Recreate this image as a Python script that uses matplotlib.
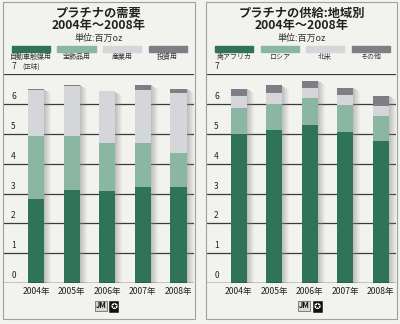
import matplotlib
matplotlib.use("Agg")
import matplotlib.pyplot as plt
from matplotlib.patches import Rectangle
import numpy as np

plt.rcParams['font.family'] = ['Noto Sans CJK JP', 'DejaVu Sans']

# data (百万oz)
years = ["2004年", "2005年", "2006年", "2007年", "2008年"]
y_ticks = [0, 1, 2, 3, 4, 5, 6, 7]

demand_labels = ["自動車触媒用", "宝飾品用", "産業用", "投資用"]
demand_note = "(正味)"
demand_auto = [2.82, 3.12, 3.10, 3.23, 3.23]
demand_jewel = [2.11, 1.81, 1.59, 1.46, 1.14]
demand_industry = [1.55, 1.69, 1.74, 1.79, 2.02]
demand_invest = [0.03, 0.03, 0.0, 0.17, 0.13]

supply_labels = ["南アフリカ", "ロシア", "北米", "その他"]
supply_sa = [5.01, 5.12, 5.30, 5.07, 4.77]
supply_russia = [0.85, 0.89, 0.92, 0.91, 0.85]
supply_na = [0.40, 0.37, 0.33, 0.33, 0.33]
supply_other = [0.26, 0.25, 0.24, 0.25, 0.34]

colors = ["#2f735a", "#8bb6a1", "#d5d6da", "#7e7f84"]
bg = "#f2f3ee"
W, H = 400, 324

fig = plt.figure(figsize=(4.0, 3.24), dpi=100, facecolor=bg)


def fx(x):
    return x / W


def fy(y):
    return 1 - y / H


def panel(x0, x1, title, labels, series, note=None):
    # frame of the panel
    fig.add_artist(Rectangle((fx(x0), fy(319)), fx(x1 - x0), 317 / H,
                             transform=fig.transFigure, fill=False,
                             edgecolor="#a0a0a0", lw=0.8))
    cx = (x0 + x1) / 2
    fig.text(fx(cx), fy(13), title, ha="center", va="center",
             fontsize=8.8, fontweight="bold", color="#222222")
    fig.text(fx(cx), fy(26), "2004年～2008年", ha="center", va="center",
             fontsize=8.8, fontweight="bold", color="#222222")
    fig.text(fx(cx), fy(38), "単位:百万oz", ha="center", va="center",
             fontsize=6.5, color="#333333")
    # legend swatches
    for i, lab in enumerate(labels):
        sx = x0 + 9 + i * 45.5
        fig.add_artist(Rectangle((fx(sx), fy(52)), fx(38), 6 / H,
                                 transform=fig.transFigure, color=colors[i]))
        fig.text(fx(sx + 19), fy(57), lab, ha="center", va="center",
                 fontsize=5, color="#333333")
    if note:
        fig.text(fx(x0 + 19), fy(67), note, ha="left", va="center",
                 fontsize=4.8, color="#333333")

    ax = fig.add_axes([fx(x0 + 1), fy(283), fx(x1 - x0 - 2), 208.6 / H])
    ax.set_facecolor(bg)
    x = np.arange(len(years))
    w = 0.45
    unit = (x1 - x0 - 2) / (4.435 + 0.898)
    total = np.sum(series, axis=0)
    # drop shadows
    for k in range(1, 8):
        ax.bar(x + w / 2 + (k - 0.5) / unit, total - 0.02 * k, width=1 / unit,
               color="#8a8a8a", alpha=0.55 * (1 - k / 8), zorder=2, lw=0)
    bottom = np.zeros(len(years))
    for vals, c in zip(series, colors):
        ax.bar(x, vals, w, bottom=bottom, color=c, zorder=3, lw=0)
        bottom += np.array(vals)
    for t in y_ticks[1:]:
        ax.axhline(t, color="#3a3a3a", lw=0.9, zorder=1)
    ax.axhline(0, color="#111111", lw=1.0, zorder=4)
    for t in y_ticks:
        ax.text(0.05, t + 0.1, str(t), transform=ax.get_yaxis_transform(),
                ha="center", va="bottom", fontsize=6, color="#222222")
    ax.set_xlim(-0.898, 4.435)
    ax.set_ylim(0, 7)
    ax.set_xticks(x)
    ax.set_xticklabels(years, fontsize=6.2, color="#222222")
    ax.tick_params(axis="x", length=0, pad=3)
    ax.set_yticks([])
    for s in ax.spines.values():
        s.set_visible(False)
    # JM logo
    lx = x0 + 104
    fig.text(fx(lx - 6), fy(306), "JM", ha="center", va="center", fontsize=5.5,
             fontweight="bold", color="#111111",
             bbox=dict(boxstyle="square,pad=0.12", fc="#d8d8d8", ec="#333333", lw=0.4))
    fig.text(fx(lx + 7), fy(306), "✪", ha="center", va="center", fontsize=6,
             color="white",
             bbox=dict(boxstyle="square,pad=0.12", fc="#111111", ec="#111111", lw=0.4))
    return ax


panel(3, 195, "プラチナの需要", demand_labels,
      [demand_auto, demand_jewel, demand_industry, demand_invest], note=demand_note)
panel(206, 397, "プラチナの供給:地域別", supply_labels,
      [supply_sa, supply_russia, supply_na, supply_other])

fig.savefig("out.png", dpi=100, facecolor=bg)
